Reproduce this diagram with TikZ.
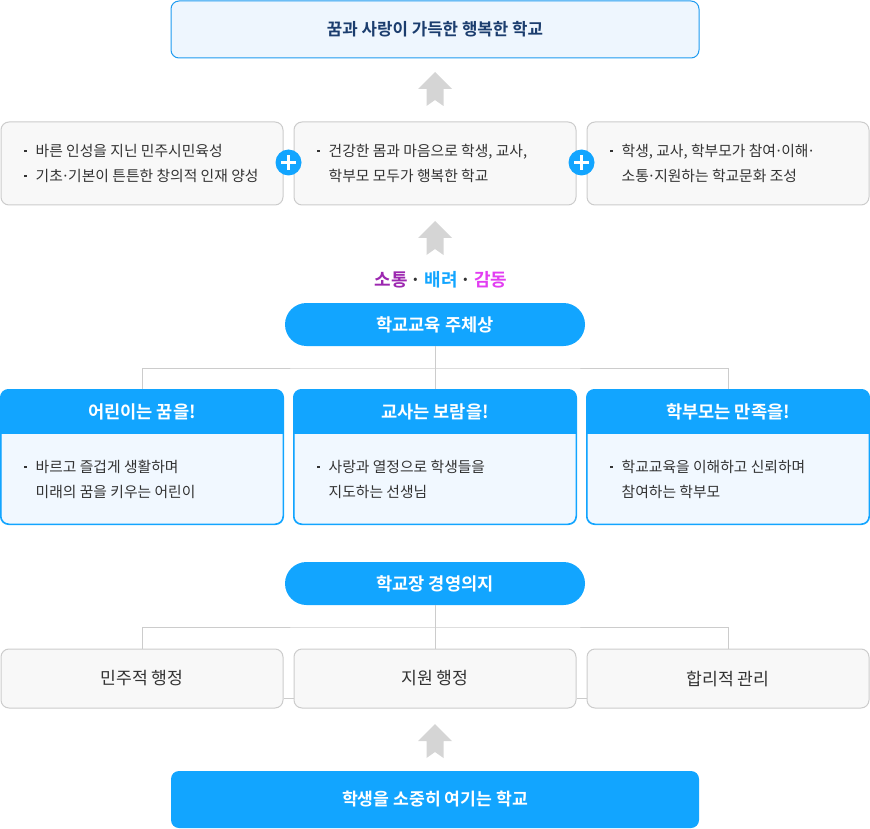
\documentclass[tikz,border=0pt]{standalone}
\usepackage{fontspec}
\setmainfont{Noto Sans CJK KR}[BoldFont={Noto Sans CJK KR Bold}]
\definecolor{mainblue}{HTML}{12A5FF}
\definecolor{topborder}{HTML}{1E9BF0}
\definecolor{topfill}{HTML}{EEF6FE}
\definecolor{navy}{HTML}{1B3D6E}
\definecolor{bodyfill}{HTML}{F1F8FF}
\definecolor{boxgray}{HTML}{CCCCCC}
\definecolor{boxfill}{HTML}{F8F8F8}
\definecolor{linegray}{HTML}{CCCCCC}
\definecolor{arrowgray}{HTML}{D5D5D5}
\definecolor{txt}{HTML}{333333}
\definecolor{sotong}{HTML}{9C27B0}
\definecolor{gamdong}{HTML}{E23DF2}
\newcommand\mybul{\makebox[11.5pt][l]{\rule[4.4pt]{2.5pt}{2.5pt}}}
\newcommand\myind{\hspace*{11.5pt}}
\newcommand\mydot{\kern-1.5pt·\kern-1.5pt}
\newcommand\uparrowshape[1]{%
  \fill[arrowgray, shift={(435,#1)}] (0,0) -- (17,17) -- (8.5,17) -- (8.5,34) -- (0,28) -- (-8.5,34) -- (-8.5,17) -- (-17,17) -- cycle;}
\begin{document}
\begin{tikzpicture}[x=1pt,y=-1pt,
  graybox/.style={draw=boxgray, fill=boxfill, line width=1pt, rounded corners=8pt, minimum width=282pt, inner sep=0pt},
  bluebox/.style={draw=mainblue, fill=bodyfill, line width=1pt, rounded corners=8pt, minimum width=282pt, minimum height=134pt, inner sep=0pt},
  pill/.style={fill=mainblue, rounded corners=21.5pt, minimum width=300pt, minimum height=43pt, inner sep=0pt, text=white, font=\fontsize{17.6}{20}\selectfont\bfseries},
  bodytext/.style={anchor=west, inner sep=0pt, align=left, text=txt, font=\fontsize{14.8}{25}\selectfont},
  headtext/.style={inner sep=0pt, text=white, font=\fontsize{17.6}{20}\selectfont\bfseries},
  midtext/.style={inner sep=0pt, text=txt, font=\fontsize{17.2}{20}\selectfont},
  conn/.style={draw=linegray, line width=1pt},
  plusicon/.style={circle, fill=mainblue, minimum size=26pt, inner sep=0pt}
]
\useasboundingbox (0,0) rectangle (870,829);

% connectors
\coordinate (j1) at (435,368);
\coordinate (j2) at (435,627);

% top box
\node[draw=topborder, fill=topfill, line width=1pt, rounded corners=8pt, minimum width=528pt, minimum height=57pt, inner sep=0pt,
      text=navy, font=\fontsize{16.8}{20}\selectfont\bfseries] (top) at (435,29.5) {꿈과 사랑이 가득한 행복한 학교};

\uparrowshape{72}

% row 2
\node[graybox, minimum height=83pt] (g1) at (142,163.5) {};
\node[graybox, minimum height=83pt] (g2) at (435,163.5) {};
\node[graybox, minimum height=83pt] (g3) at (728,163.5) {};
\node[bodytext] (g1t) at (24,163.5) {\mybul 바른 인성을 지닌 민주시민육성\\\mybul 기초\mydot 기본이 튼튼한 창의적 인재 양성};
\node[bodytext] (g2t) at (317,163.5) {\mybul 건강한 몸과 마음으로 학생, 교사,\\\myind 학부모 모두가 행복한 학교};
\node[bodytext] (g3t) at (610,163.5) {\mybul 학생, 교사, 학부모가 참여\mydot 이해\mydot\\\myind 소통\mydot 지원하는 학교문화 조성};
\node[plusicon] (plus1) at (288.5,162.5) {};
\node[plusicon] (plus2) at (581.5,162.5) {};
\foreach \p in {plus1,plus2}{
  \draw[white, line width=2.6pt] ([xshift=-7.5pt]\p.center) -- ([xshift=7.5pt]\p.center);
  \draw[white, line width=2.6pt] ([yshift=-7.5pt]\p.center) -- ([yshift=7.5pt]\p.center);
}

\uparrowshape{221}

% values
\node[inner sep=0pt, font=\fontsize{18}{20}\selectfont\bfseries] (values) at (441,280)
  {\textcolor{sotong}{소통}\,\textcolor{txt}{·}\,\textcolor{mainblue}{배려}\,\textcolor{txt}{·}\,\textcolor{gamdong}{감동}};

% pill 1
\node[pill] (p1) at (435,324.5) {학교교육 주체상};

% row 3
\node[bluebox] (c1) at (142,457) {};
\node[bluebox] (c2) at (435,457) {};
\node[bluebox] (c3) at (728,457) {};
\draw[conn] (p1.south) -- (c2.north);
\draw[conn] (c1.north) |- (j1) -| (c3.north);
\foreach \c in {c1,c2,c3}{
  \begin{scope}
    \clip[rounded corners=8pt] (\c.south west) rectangle (\c.north east);
    \fill[mainblue] (\c.north west) rectangle ([yshift=-44pt]\c.north east);
  \end{scope}
  \draw[mainblue, line width=1pt, rounded corners=8pt] (\c.south west) rectangle (\c.north east);
}
\node[headtext] (h1) at (142,412) {어린이는 꿈을!};
\node[headtext] (h2) at (435,412) {교사는 보람을!};
\node[headtext] (h3) at (728,412) {학부모는 만족을!};
\node[bodytext] (c1t) at (24,479.5) {\mybul 바르고 즐겁게 생활하며\\\myind 미래의 꿈을 키우는 어린이};
\node[bodytext] (c2t) at (317,479.5) {\mybul 사랑과 열정으로 학생들을\\\myind 지도하는 선생님};
\node[bodytext] (c3t) at (610,479.5) {\mybul 학교교육을 이해하고 신뢰하며\\\myind 참여하는 학부모};

% pill 2
\node[pill] (p2) at (435,583.5) {학교장 경영의지};

% row 4
\node[graybox, minimum height=59pt, midtext] (m1) at (142,678.5) {민주적 행정};
\node[graybox, minimum height=59pt, midtext] (m2) at (435,678.5) {지원 행정};
\node[graybox, minimum height=59pt, midtext] (m3) at (728,678.5) {합리적 관리};
\draw[conn] (p2.south) -- (m2.north);
\draw[conn] (m1.north) |- (j2) -| (m3.north);
\draw[conn] ([yshift=10pt]m1.south east) -- ([yshift=10pt]m2.south west);
\draw[conn] ([yshift=10pt]m2.south east) -- ([yshift=10pt]m3.south west);

\uparrowshape{724}

% bottom box
\node[fill=mainblue, rounded corners=8pt, minimum width=528pt, minimum height=57pt, inner sep=0pt,
      text=white, font=\fontsize{17.2}{20}\selectfont\bfseries] (bottom) at (435,799.5) {학생을 소중히 여기는 학교};
\end{tikzpicture}
\end{document}
